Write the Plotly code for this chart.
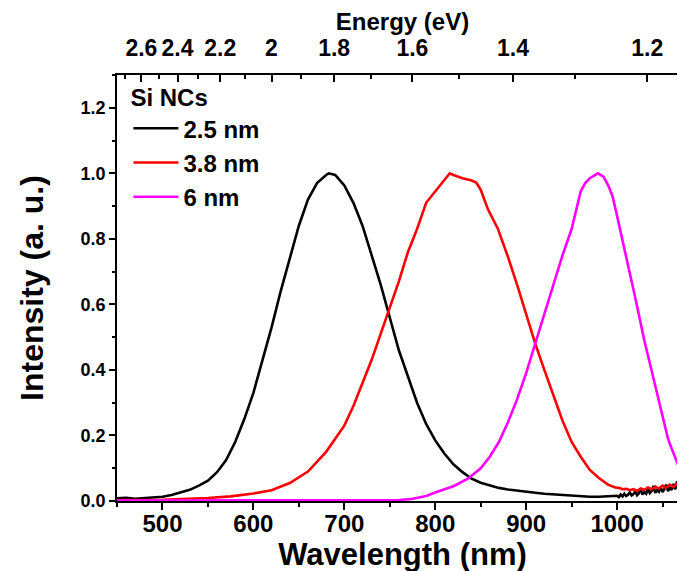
import plotly.graph_objects as go

# ---------------- data ----------------
wl_25 = [450, 460, 470, 480, 490, 500, 510, 520, 530, 540, 550, 560, 570, 580, 590,
         600, 610, 620, 630, 640, 650, 660, 670, 680, 683, 690, 700, 710, 720, 730,
         740, 750, 760, 770, 780, 790, 800, 810, 820, 830, 840, 850, 860, 870, 880,
         890, 900, 910, 920, 930, 940, 950, 960, 970, 980, 990,
         1000, 1002, 1004, 1006, 1008, 1010, 1012, 1014, 1016, 1018, 1020, 1022, 1024,
         1026, 1028, 1030, 1032, 1034, 1036, 1038, 1040, 1042, 1044, 1046, 1048, 1050,
         1052, 1054, 1056, 1058, 1060, 1062, 1064, 1066, 1068, 1070, 1072, 1074, 1076,
         1078]
int_25 = [0.008, 0.010, 0.007, 0.009, 0.010, 0.013, 0.018, 0.025, 0.034, 0.047, 0.062,
          0.088, 0.125, 0.18, 0.25, 0.33, 0.43, 0.53, 0.64, 0.74, 0.84, 0.92, 0.97,
          0.995, 1.0, 0.995, 0.963, 0.91, 0.84, 0.75, 0.66, 0.56, 0.46, 0.38, 0.30,
          0.235, 0.185, 0.145, 0.112, 0.088, 0.068, 0.056, 0.047, 0.040, 0.035, 0.031,
          0.028, 0.025, 0.022, 0.020, 0.017, 0.015, 0.014, 0.013, 0.013, 0.014,
          0.016, 0.012, 0.020, 0.014, 0.022, 0.015, 0.019, 0.026, 0.017, 0.021, 0.030,
          0.018, 0.024, 0.035, 0.020, 0.027, 0.022, 0.038, 0.024, 0.030, 0.046, 0.025,
          0.033, 0.028, 0.042, 0.027, 0.036, 0.050, 0.030, 0.040, 0.034, 0.052, 0.036,
          0.060, 0.040, 0.075, 0.045, 0.080, 0.040, 0.065]

wl_38 = [450, 500, 550, 575, 600, 620, 640, 660, 680, 700, 710, 720, 730, 740, 750,
         760, 770, 780, 790, 800, 808, 816, 820, 830, 840, 845, 850, 858, 869, 880,
         890, 900, 910, 920, 930, 940, 950, 960, 970, 980, 990, 994, 998, 1002, 1006,
         1010, 1014, 1018, 1022, 1026, 1030, 1034, 1038, 1042, 1046, 1050, 1054, 1058,
         1062, 1066, 1070, 1074, 1078]
int_38 = [0.003, 0.004, 0.009, 0.014, 0.023, 0.033, 0.055, 0.09, 0.15, 0.23, 0.29,
          0.36, 0.43, 0.51, 0.59, 0.67, 0.76, 0.83, 0.91, 0.945, 0.975, 1.0, 0.995,
          0.985, 0.978, 0.972, 0.95, 0.89, 0.83, 0.745, 0.66, 0.57, 0.48, 0.40, 0.32,
          0.245, 0.18, 0.135, 0.095, 0.07, 0.05, 0.046, 0.041, 0.040, 0.036, 0.037,
          0.033, 0.036, 0.031, 0.038, 0.034, 0.041, 0.036, 0.044, 0.038, 0.047, 0.040,
          0.050, 0.043, 0.052, 0.045, 0.055, 0.048]

wl_6 = [450, 500, 600, 700, 760, 774, 790, 803, 820, 836, 850, 860, 870, 880, 890,
        900, 910, 920, 930, 940, 950, 955, 960, 965, 970, 979, 985, 990, 995, 1000,
        1010, 1020, 1030, 1040, 1050, 1056, 1060, 1067, 1073, 1078]
int_6 = [0.001, 0.001, 0.001, 0.002, 0.003, 0.006, 0.015, 0.029, 0.045, 0.068, 0.10,
         0.135, 0.18, 0.24, 0.31, 0.39, 0.48, 0.57, 0.66, 0.75, 0.83, 0.89, 0.945,
         0.97, 0.985, 1.0, 0.99, 0.965, 0.93, 0.87, 0.75, 0.62, 0.49, 0.375, 0.26,
         0.19, 0.16, 0.11, 0.07, 0.05]

series_names = ["2.5 nm", "3.8 nm", "6 nm"]
series_colors = ["#000000", "#ff0000", "#ff00ff"]

energy_major = [2.6, 2.4, 2.2, 2.0, 1.8, 1.6, 1.4, 1.2]
energy_labels = ["2.6", "2.4", "2.2", "2", "1.8", "1.6", "1.4", "1.2"]
energy_minor = [2.7, 2.5, 2.3, 2.1, 1.9, 1.7, 1.5, 1.3]

HC = 1239.84  # eV*nm
x_range = [450, 1078]

# ---------------- figure ----------------
FONT = "Liberation Sans, Arial, Helvetica, sans-serif"
fig = go.Figure()
for wl, inten, name, col in zip([wl_25, wl_38, wl_6], [int_25, int_38, int_6],
                                series_names, series_colors):
    fig.add_trace(go.Scatter(x=wl, y=inten, mode="lines", name=name,
                             line=dict(color=col, width=2.6)))

# carrier trace for the top (energy) axis
fig.add_trace(go.Scatter(x=[], y=[], xaxis="x2", showlegend=False, hoverinfo="skip"))

fig.update_layout(
    width=685, height=571,
    margin=dict(l=109, r=5, t=67, b=78, autoexpand=False),
    plot_bgcolor="white", paper_bgcolor="white",
    font=dict(family=FONT, color="black", weight="bold"),
    showlegend=True,
    legend=dict(
        x=0.02, y=1.0, xanchor="left", yanchor="top",
        bgcolor="rgba(0,0,0,0)",
        font=dict(size=24, family=FONT, weight="bold"),
        title=dict(text="Si NCs", font=dict(size=24, family=FONT, weight="bold")),
        itemwidth=45, tracegroupgap=0,
    ),
    xaxis=dict(
        range=x_range, tickmode="linear", tick0=500, dtick=100, automargin=False,
        ticks="outside", ticklen=7, tickwidth=1.5, tickcolor="black",
        minor=dict(dtick=50, tick0=500, ticks="outside", ticklen=4, tickwidth=1.5, tickcolor="black"),
        showline=True, linecolor="black", linewidth=1.5, mirror=False,
        showgrid=False, zeroline=False,
        tickfont=dict(size=24, family=FONT, weight="bold"),
        ticklabelstandoff=-7,
        title=dict(text="Wavelength (nm)", font=dict(size=31, family=FONT, weight="bold"), standoff=0),
    ),
    xaxis2=dict(
        overlaying="x", side="top", anchor="y", range=x_range, automargin=False,
        tickmode="array", tickvals=[HC / e for e in energy_major], ticktext=energy_labels,
        ticks="inside", ticklen=7, tickwidth=1.5, tickcolor="black",
        minor=dict(tickmode="array", tickvals=[HC / e for e in energy_minor],
                   ticks="inside", ticklen=4, tickwidth=1.5, tickcolor="black"),
        showline=True, linecolor="black", linewidth=1.5,
        showgrid=False, zeroline=False,
        tickfont=dict(size=23, family=FONT, weight="bold"),
        ticklabelstandoff=8,
        title=dict(text="Energy (eV)", font=dict(size=24, family=FONT, weight="bold"), standoff=0),
    ),
    yaxis=dict(
        range=[0, 1.3], tickmode="linear", tick0=0, dtick=0.2, tickformat=".1f", automargin=False,
        ticks="outside", ticklen=6, tickwidth=1.5, tickcolor="black",
        minor=dict(dtick=0.1, tick0=0, ticks="outside", ticklen=3, tickwidth=1.5, tickcolor="black"),
        showline=True, linecolor="black", linewidth=1.5, mirror=True,
        showgrid=False, zeroline=False,
        tickfont=dict(size=18, family=FONT, weight="bold"),
        title=dict(text="Intensity (a. u.)", font=dict(size=32, family=FONT, weight="bold"), standoff=27),
    ),
)

fig.write_html("out.html")
